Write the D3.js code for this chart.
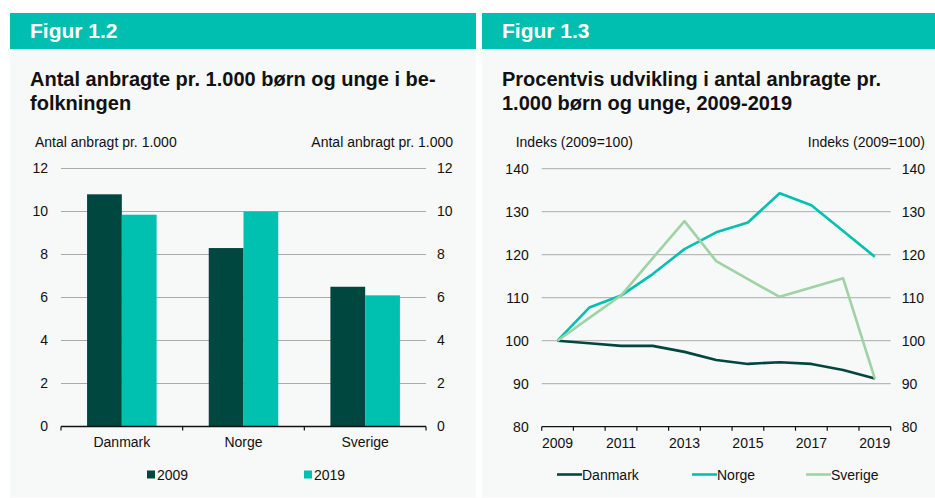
<!DOCTYPE html>
<html>
<head>
<meta charset="utf-8">
<script src="https://cdn.jsdelivr.net/npm/d3@7"></script>
<style>
  body { margin: 0; background: #ffffff; }
  text { font-family: "Liberation Sans", Arial, Helvetica, sans-serif; }
</style>
</head>
<body>
<script>
// data
const countries = ["Danmark", "Norge", "Sverige"];
const barSeries = ["2009", "2019"];
const values2009 = [10.8, 8.3, 6.5];
const values2019 = [9.85, 10.0, 6.1];
const barTicks = [0, 2, 4, 6, 8, 10, 12];

const years = [2009, 2010, 2011, 2012, 2013, 2014, 2015, 2016, 2017, 2018, 2019];
const yearLabels = [2009, 2011, 2013, 2015, 2017, 2019];
const danmark = [100, 99.4, 98.8, 98.8, 97.4, 95.5, 94.6, 95.0, 94.6, 93.2, 91.2];
const norge   = [100, 107.7, 110.5, 115.5, 121.3, 125.2, 127.5, 134.3, 131.5, 125.5, 119.5];
const sverige = [100, 105.3, 110.5, 119.2, 127.8, 118.5, 114.3, 110.2, 112.4, 114.5, 91.2];
const lineTicks = [80, 90, 100, 110, 120, 130, 140];

let canvasW = 935;
let canvasH = 498;

let headColor = "#00bfb1";
let panelColor = "#f7f8f8";
let dark = "#00473f";
let teal = "#00c0b0";
let green = "#9fd2a5";
let gridColor = "#aaaaaa";

let svg = d3.select("body")
  .append("svg")
    .attr("width", canvasW)
    .attr("height", canvasH);

// panels + headers
function panel(x0, x1, fig, title1, title2) {
  svg.append("rect")
    .attr("x", x0).attr("y", 49)
    .attr("width", x1 - x0).attr("height", 448.5)
    .attr("fill", panelColor);
  svg.append("rect")
    .attr("x", x0).attr("y", 13)
    .attr("width", x1 - x0).attr("height", 36)
    .attr("fill", headColor);
  svg.append("text")
    .attr("x", x0 + 20).attr("y", 38)
    .attr("font-size", "21px").attr("font-weight", "bold")
    .attr("fill", "white")
    .text(fig);
  svg.append("text")
    .attr("x", x0 + 20).attr("y", 86)
    .attr("font-size", "20px").attr("font-weight", "bold")
    .attr("fill", "#111")
    .text(title1);
  svg.append("text")
    .attr("x", x0 + 20).attr("y", 110)
    .attr("font-size", "20px").attr("font-weight", "bold")
    .attr("fill", "#111")
    .text(title2);
}

panel(10, 476, "Figur 1.2", "Antal anbragte pr. 1.000 børn og unge i be-", "folkningen");
panel(482, 935, "Figur 1.3", "Procentvis udvikling i antal anbragte pr.", "1.000 børn og unge, 2009-2019");

// shared: y axes with gridlines
function yAxes(y, ticks, xl, xr, unitLabel, labelRight) {
  svg.append("g")
    .selectAll("line")
    .data(ticks.slice(1))
    .enter()
      .append("line")
        .attr("x1", xl).attr("x2", xr)
        .attr("y1", d => y(d)).attr("y2", d => y(d))
        .attr("stroke", gridColor)
        .attr("stroke-width", 1);

  const left = svg.append("g").attr("transform", "translate(" + xl + ",0)");
  d3.axisLeft(y).tickValues(ticks).tickSize(0).tickPadding(13)(left);
  const right = svg.append("g").attr("transform", "translate(" + xr + ",0)");
  d3.axisRight(y).tickValues(ticks).tickSize(0).tickPadding(11)(right);
  [left, right].forEach(g => {
    g.select(".domain").remove();
    g.selectAll("text").attr("font-size", "14px").attr("fill", "#111").attr("font-family", null);
  });

  svg.append("text")
    .attr("x", xl - 26).attr("y", 147)
    .attr("font-size", "14px").attr("fill", "#111")
    .text(unitLabel);
  svg.append("text")
    .attr("x", labelRight).attr("y", 147)
    .attr("text-anchor", "end")
    .attr("font-size", "14px").attr("fill", "#111")
    .text(unitLabel);
}

function xBaseline(x, y0, edges) {
  svg.append("line")
    .attr("x1", x.range()[0]).attr("x2", x.range()[1])
    .attr("y1", y0).attr("y2", y0)
    .attr("stroke", "#111").attr("stroke-width", 1.3);
  svg.append("g")
    .selectAll("line")
    .data(edges)
    .enter()
      .append("line")
        .attr("x1", d => d).attr("x2", d => d)
        .attr("y1", y0).attr("y2", y0 + 4)
        .attr("stroke", "#111").attr("stroke-width", 1.2);
}

// ---- Figur 1.2 : bars ----
let xBar = d3.scaleBand()
  .domain(countries)
  .range([61, 426]);
let xInner = d3.scaleBand()
  .domain(barSeries)
  .range([0, xBar.bandwidth()])
  .paddingOuter(0.75);
let yBar = d3.scaleLinear()
  .domain([0, 12])
  .range([426.5, 168.5]);

yAxes(yBar, barTicks, 61, 426, "Antal anbragt pr. 1.000", 453);

let barRows = countries.map((c, i) => ({ country: c, vals: [values2009[i], values2019[i]] }));
let barColors = d3.scaleOrdinal().domain(barSeries).range([dark, teal]);

svg.append("g")
  .selectAll("g")
  .data(barRows)
  .enter()
    .append("g")
      .attr("transform", d => "translate(" + xBar(d.country) + ",0)")
    .selectAll("rect")
    .data(d => d.vals.map((v, j) => ({ key: barSeries[j], v: v })))
    .enter()
      .append("rect")
        .attr("x", d => xInner(d.key))
        .attr("width", xInner.bandwidth())
        .attr("y", d => yBar(d.v))
        .attr("height", d => yBar(0) - yBar(d.v))
        .attr("fill", d => barColors(d.key));

xBaseline(xBar, yBar(0), countries.map(c => xBar(c)).concat([xBar.range()[1]]));

const xBarAxis = svg.append("g").attr("transform", "translate(0," + yBar(0) + ")");
d3.axisBottom(xBar).tickSize(0).tickPadding(11)(xBarAxis);
xBarAxis.select(".domain").remove();
xBarAxis.selectAll("text").attr("font-size", "14px").attr("fill", "#111").attr("font-family", null);

// legend bars
let barLegendX = [147, 304];
barSeries.forEach((s, i) => {
  svg.append("rect")
    .attr("x", barLegendX[i]).attr("y", 470.5)
    .attr("width", 8).attr("height", 8)
    .attr("fill", barColors(s));
  svg.append("text")
    .attr("x", barLegendX[i] + 10).attr("y", 479.5)
    .attr("font-size", "14px").attr("fill", "#111")
    .text(s);
});

// ---- Figur 1.3 : lines ----
let xLine = d3.scaleBand()
  .domain(years)
  .range([541.7, 890.7]);
let yLine = d3.scaleLinear()
  .domain([80, 140])
  .range([426.7, 168.7]);

yAxes(yLine, lineTicks, 541.7, 890.7, "Indeks (2009=100)", 925);

xBaseline(xLine, yLine(80), years.map(yy => xLine(yy)).concat([xLine.range()[1]]));

const xLineAxis = svg.append("g").attr("transform", "translate(0," + yLine(80) + ")");
d3.axisBottom(xLine).tickValues(yearLabels).tickSize(0).tickPadding(11)(xLineAxis);
xLineAxis.select(".domain").remove();
xLineAxis.selectAll("text").attr("font-size", "14px").attr("fill", "#111").attr("font-family", null);

let series = [
  { name: "Danmark", values: danmark, color: dark },
  { name: "Norge", values: norge, color: teal },
  { name: "Sverige", values: sverige, color: green }
];

let line = d3.line()
  .x((d, i) => xLine(years[i]) + xLine.bandwidth() / 2)
  .y(d => yLine(d));

svg.append("g")
  .selectAll("path")
  .data(series)
  .enter()
    .append("path")
      .attr("d", d => line(d.values))
      .attr("fill", "none")
      .attr("stroke", d => d.color)
      .attr("stroke-width", 2.6)
      .attr("stroke-linejoin", "round");

// legend lines
let lineLegendX = [557, 692, 806];
series.forEach((s, i) => {
  svg.append("line")
    .attr("x1", lineLegendX[i]).attr("x2", lineLegendX[i] + 25)
    .attr("y1", 474.5).attr("y2", 474.5)
    .attr("stroke", s.color).attr("stroke-width", 2.6);
  svg.append("text")
    .attr("x", lineLegendX[i] + 25).attr("y", 479.5)
    .attr("font-size", "14px").attr("fill", "#111")
    .text(s.name);
});
</script>
</body>
</html>
